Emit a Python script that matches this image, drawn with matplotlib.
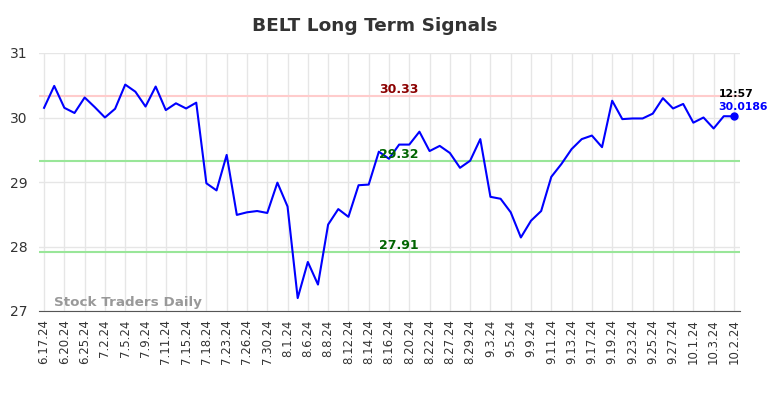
import matplotlib
matplotlib.use("Agg")
import matplotlib.pyplot as plt

dates = ["6.17.24", "6.20.24", "6.25.24", "7.2.24", "7.5.24", "7.9.24", "7.11.24",
         "7.15.24", "7.18.24", "7.23.24", "7.26.24", "7.30.24", "8.1.24", "8.6.24",
         "8.8.24", "8.12.24", "8.14.24", "8.16.24", "8.20.24", "8.22.24", "8.27.24",
         "8.29.24", "9.3.24", "9.5.24", "9.9.24", "9.11.24", "9.13.24", "9.17.24",
         "9.19.24", "9.23.24", "9.25.24", "9.27.24", "10.1.24", "10.3.24", "10.2.24"]

prices = [30.15, 30.49, 30.15, 30.07, 30.31, 30.16, 30.00, 30.135, 30.51, 30.40,
          30.17, 30.48, 30.115, 30.22, 30.14, 30.23, 28.98, 28.87, 29.42, 28.49,
          28.53, 28.55, 28.52, 28.99, 28.62, 27.20, 27.76, 27.41, 28.34, 28.58,
          28.46, 28.95, 28.96, 29.47, 29.36, 29.58, 29.58, 29.78, 29.48, 29.56,
          29.45, 29.22, 29.33, 29.665, 28.77, 28.74, 28.53, 28.14, 28.40, 28.55,
          29.08, 29.28, 29.51, 29.665, 29.72, 29.54, 30.26, 29.975, 29.985, 29.985,
          30.06, 30.30, 30.14, 30.21, 29.92, 30.00, 29.83, 30.02, 30.0186]

resistance = 30.33
support_hi = 29.32
support_lo = 27.91
last_time = "12:57"

fig = plt.figure(figsize=(7.84, 3.98), dpi=100)
ax = fig.add_axes([39 / 784, 1 - 311 / 398, 701 / 784, 258 / 398])

x = list(range(len(prices)))
ax.plot(x, prices, color="#0000ff", linewidth=1.5, zorder=3)
ax.plot(x[-1], prices[-1], "o", color="#0000ff", markersize=5, zorder=4)

ax.axhline(resistance, color="#ffcccc", linewidth=1.5, zorder=2)
ax.axhline(support_hi, color="#99e699", linewidth=1.5, zorder=2)
ax.axhline(support_lo, color="#99e699", linewidth=1.5, zorder=2)

mid = 35
for level, col in [(resistance, "#8b0000"), (support_hi, "#006400"), (support_lo, "#006400")]:
    ax.annotate(f"{level:.2f}", (mid, level), xytext=(0, 0.5), textcoords="offset points",
                color=col, fontsize=9, fontweight="bold", ha="center", va="bottom")

ax.annotate(last_time, (x[-1], prices[-1]), xytext=(-11, 16), textcoords="offset points",
            color="black", fontsize=7.8, fontweight="bold", ha="left", va="center")
ax.annotate(f"{prices[-1]:.4f}", (x[-1], prices[-1]), xytext=(-11, 7), textcoords="offset points",
            color="#0000ff", fontsize=7.8, fontweight="bold", ha="left", va="center")

ax.text(1, 27.13, "Stock Traders Daily", color="#999999", fontsize=9.7,
        fontweight="bold", ha="left", va="center")

ax.set_xlim(-0.5, 68.6)
ax.set_ylim(27, 31)
ax.set_yticks([27, 28, 29, 30, 31])
ax.set_xticks(x[::2])
ax.set_xticklabels(dates, rotation=90, fontsize=8.5, color="#333333")
ax.tick_params(axis="y", labelsize=10, colors="#333333", length=0, pad=8)
ax.tick_params(axis="x", length=0, pad=6)
ax.grid(True, color="#e6e6e6", linewidth=1)
ax.set_axisbelow(True)
for s in ["top", "right", "left"]:
    ax.spines[s].set_visible(False)
ax.spines["bottom"].set_color("#555555")

fig.text(374.5 / 784, 1 - 26 / 398, "BELT Long Term Signals", fontsize=13.3,
         fontweight="bold", color="#333333", ha="center", va="center")

fig.savefig("out.png", dpi=100)
